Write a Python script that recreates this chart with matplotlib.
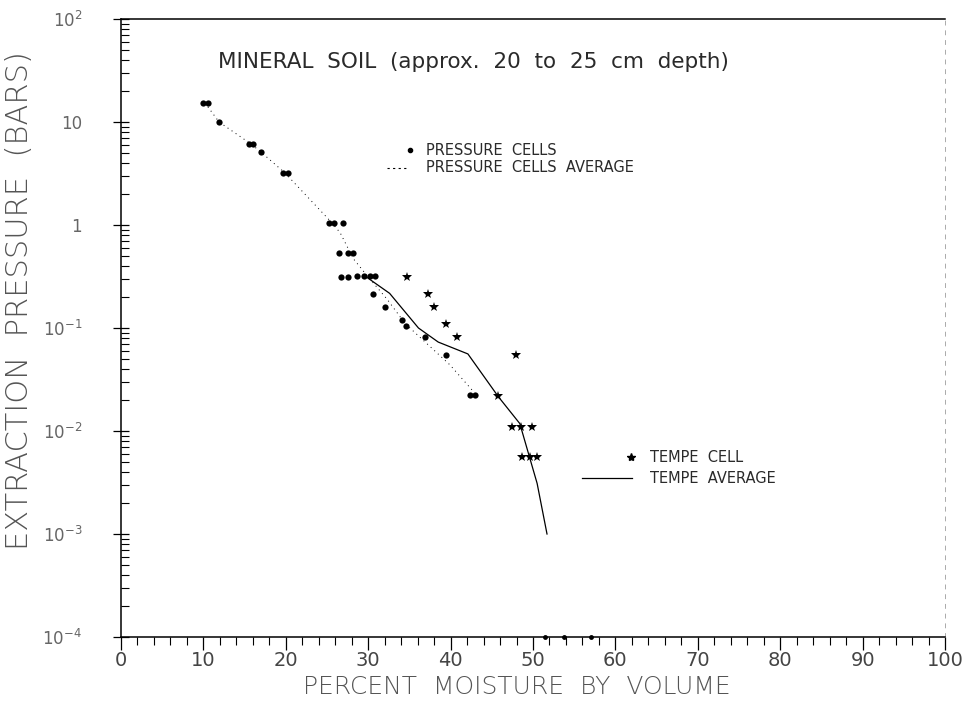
import numpy as np
import matplotlib
matplotlib.use("Agg")
import matplotlib.pyplot as plt
from matplotlib.ticker import FixedLocator, LogLocator, NullFormatter, FixedFormatter

# pressure cells (percent moisture, bars)
pressure_x = [10.0, 10.5, 11.9, 15.5, 16.0, 17.0, 19.6, 20.3, 25.2, 25.8, 26.9,
              26.5, 27.6, 28.2, 26.7, 27.6, 28.6, 29.5, 30.2, 30.8,
              30.6, 32.0, 34.1, 34.6, 36.9, 39.4, 42.3, 43.0]
pressure_y = [15.3, 15.3, 10.0, 6.1, 6.1, 5.1, 3.2, 3.2, 1.05, 1.05, 1.05,
              0.534, 0.534, 0.534, 0.313, 0.313, 0.32, 0.32, 0.32, 0.32,
              0.214, 0.16, 0.12, 0.105, 0.082, 0.0547, 0.0224, 0.0224]

pressure_avg_x = [10.2, 11.9, 15.8, 17.0, 19.9, 25.6, 26.6, 28.2, 29.9, 32.3, 34.5, 37.0, 39.9, 42.8]
pressure_avg_y = [15.3, 10.0, 6.1, 5.1, 3.2, 1.05, 0.84, 0.47, 0.32, 0.19, 0.11, 0.072, 0.044, 0.024]

# tempe cell
tempe_x = [34.7, 37.3, 38.0, 39.4, 40.8, 47.9, 45.8, 47.4, 48.5, 49.9, 48.7, 49.6, 50.5]
tempe_y = [0.313, 0.214, 0.16, 0.109, 0.082, 0.0547, 0.022, 0.0109, 0.0109, 0.0109,
           0.0056, 0.0056, 0.0056]

tempe_avg_x = [29.6, 32.6, 36.1, 38.5, 42.1, 45.8, 48.4, 50.5, 51.7]
tempe_avg_y = [0.32, 0.217, 0.10, 0.073, 0.056, 0.0215, 0.0118, 0.0031, 0.001]

# readings at zero suction sit on the bottom axis
zero_x = [51.5, 53.8, 57.0]
zero_y = [1e-4, 1e-4, 1e-4]

x_ticks = [0, 10, 20, 30, 40, 50, 60, 70, 80, 90, 100]
y_ticks = [1e-4, 1e-3, 1e-2, 1e-1, 1e0, 1e1, 1e2]
y_labels = [r'$10^{-4}$', r'$10^{-3}$', r'$10^{-2}$', r'$10^{-1}$', '1', '10', r'$10^{2}$']

txt = '#2a2a2a'

fig = plt.figure(figsize=(9.66, 7.01), dpi=100)
ax = fig.add_axes([121/966, 1 - 637/701, 824/966, 618/701])

ax.plot(pressure_avg_x, pressure_avg_y, color='k', lw=0.7, linestyle=(0, (1, 4)))
ax.plot(tempe_avg_x, tempe_avg_y, color='k', lw=0.9)
ax.plot(pressure_x, pressure_y, 'o', color='k', ms=4.5, mew=0)
ax.plot(tempe_x, tempe_y, '*', color='k', ms=7, mew=0)
ax.plot(zero_x, zero_y, 'o', color='k', ms=3.5, mew=0, clip_on=False)

ax.set_yscale('log')
ax.set_xlim(0, 100)
ax.set_ylim(1e-4, 1e2)

ax.xaxis.set_major_locator(FixedLocator(x_ticks))
ax.xaxis.set_minor_locator(FixedLocator(np.arange(0, 101, 2)))
ax.tick_params(axis='x', which='major', direction='out', length=9, width=0.9,
               labelsize=14, labelcolor='#444', pad=1)
ax.tick_params(axis='x', which='minor', direction='out', length=6, width=0.8)

ax.yaxis.set_major_locator(FixedLocator(y_ticks))
ax.yaxis.set_major_formatter(FixedFormatter(y_labels))
ax.yaxis.set_minor_locator(LogLocator(base=10, subs=np.arange(2, 10), numticks=20))
ax.yaxis.set_minor_formatter(NullFormatter())
ax.tick_params(axis='y', which='major', direction='inout', length=12, width=0.9,
               labelsize=12, labelcolor='#666', pad=22)
ax.tick_params(axis='y', which='minor', direction='in', length=6, width=0.8)

for s in ['left', 'bottom', 'top']:
    ax.spines[s].set_linewidth(1.1)
ax.spines['right'].set_linestyle((0, (4, 6)))
ax.spines['right'].set_color('#aaa')
ax.spines['right'].set_linewidth(0.7)

ax.set_xlabel('PERCENT  MOISTURE  BY  VOLUME', fontsize=18, color='#555',
              fontweight='light')
ax.xaxis.set_label_coords(0.48, -0.062)
ax.set_ylabel('EXTRACTION  PRESSURE  (BARS)', fontsize=22, color='#555',
              fontweight='light')
ax.yaxis.set_label_coords(-0.105, 0.545)

ax.text(0.118, 0.930, 'MINERAL  SOIL  (approx.  20  to  25  cm  depth)',
        transform=ax.transAxes, fontsize=15.5, color=txt, va='center')

# legend, drawn by hand as in the original
ax.plot([0.351], [0.788], 'o', color='k', ms=3, transform=ax.transAxes)
ax.text(0.370, 0.788, 'PRESSURE  CELLS', transform=ax.transAxes,
        fontsize=10.5, color=txt, va='center')
ax.plot([0.323, 0.347], [0.759, 0.759], color='k', lw=0.8, linestyle=(0, (2, 3)),
        transform=ax.transAxes)
ax.text(0.370, 0.759, 'PRESSURE  CELLS  AVERAGE', transform=ax.transAxes,
        fontsize=10.5, color=txt, va='center')

ax.plot([0.619], [0.291], '*', color='k', ms=6, transform=ax.transAxes)
ax.text(0.642, 0.291, 'TEMPE  CELL', transform=ax.transAxes,
        fontsize=10.5, color=txt, va='center')
ax.plot([0.559, 0.620], [0.257, 0.257], color='k', lw=0.9, transform=ax.transAxes)
ax.text(0.642, 0.257, 'TEMPE  AVERAGE', transform=ax.transAxes,
        fontsize=10.5, color=txt, va='center')

fig.savefig('out.png', dpi=100)
